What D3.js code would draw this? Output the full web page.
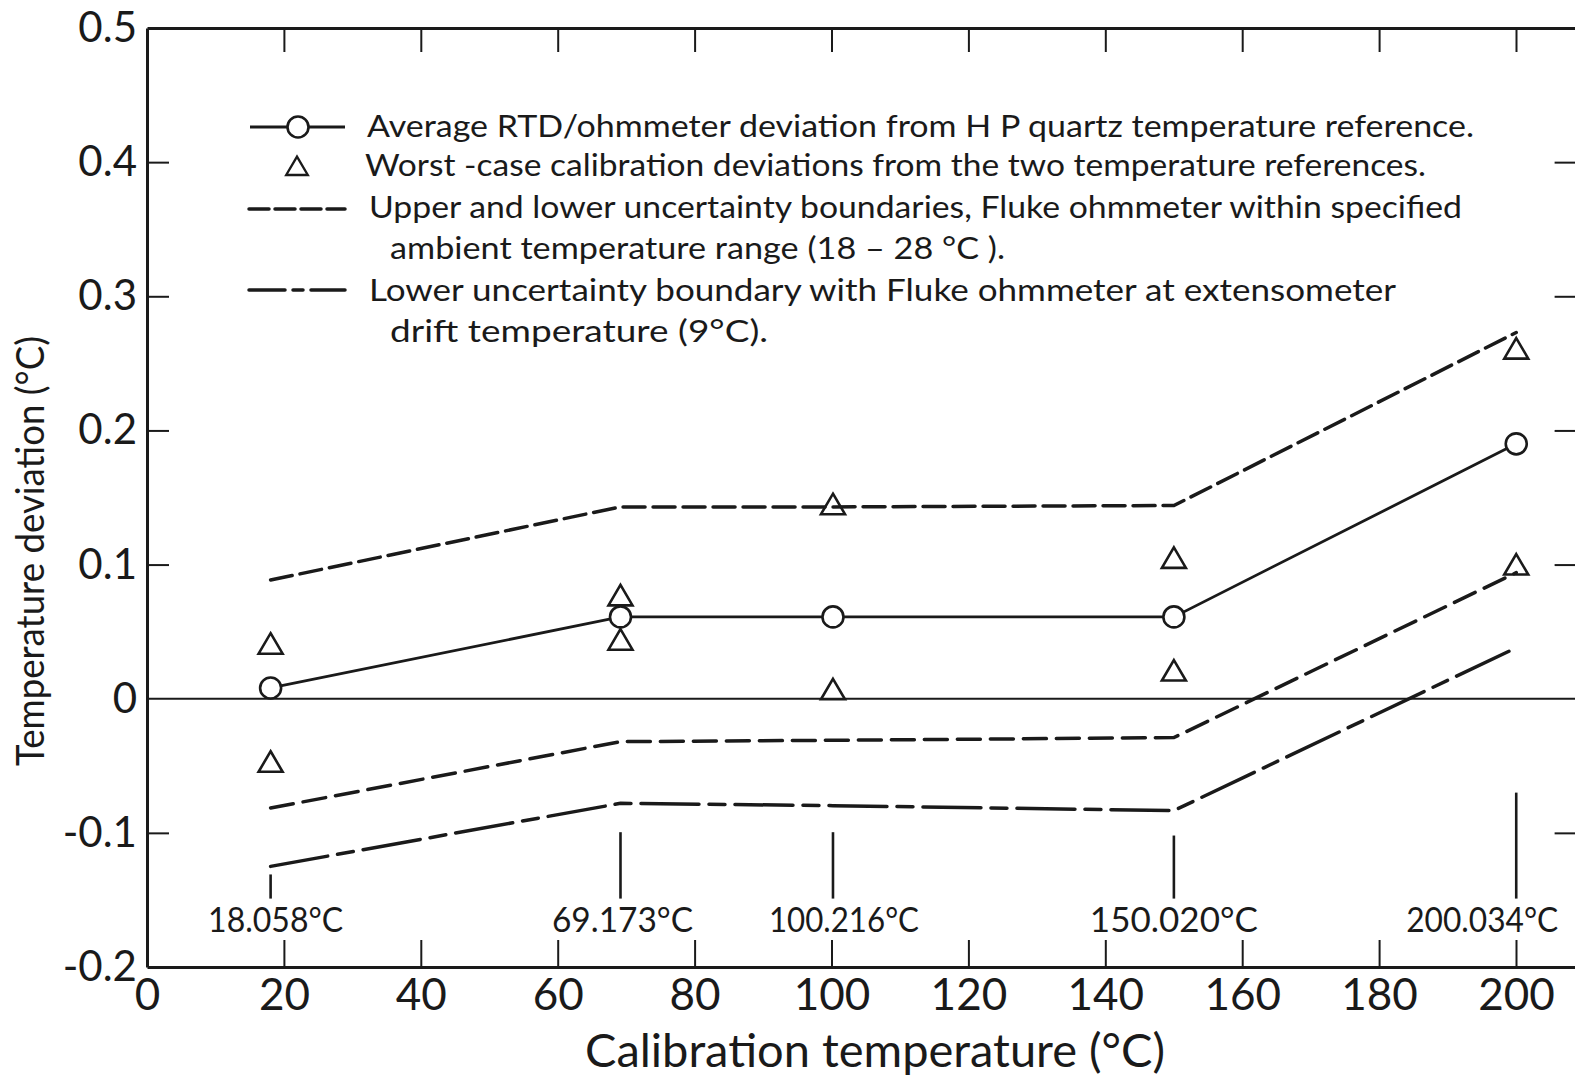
<!DOCTYPE html>
<html>
<head>
<meta charset="utf-8">
<script src="https://cdn.jsdelivr.net/npm/d3@7"></script>
<style>
  html, body { margin: 0; padding: 0; background: #fff; }
  svg { display: block; }
  text { font-family: Lato, "Noto Sans", sans-serif; fill: #1a1a1a; }
</style>
</head>
<body>
<svg id="chart" width="1575" height="1077"></svg>
<script>
// ---------------- DATA ----------------
const calTemps = [18.058, 69.173, 100.216, 150.020, 200.034];
const calLabels = ["18.058°C", "69.173°C", "100.216°C", "150.020°C", "200.034°C"];
const avgDeviation = [0.008, 0.061, 0.061, 0.061, 0.190];
const worstUpper = [0.041, 0.077, 0.145, 0.105, 0.261];
const worstLower = [-0.047, 0.044, 0.007, 0.021, 0.100];
const upperBound = [0.0885, 0.143, 0.143, 0.144, 0.273];
const lowerBound = [-0.0815, -0.032, -0.031, -0.029, 0.094];
const lowerBound9C = [-0.125, -0.078, -0.0797, -0.0834, 0.038];
const markerTop = [-0.131, -0.0995, -0.0995, -0.102, -0.070];
const markerBottom = [-0.149, -0.149, -0.149, -0.149, -0.149];
const xTicks = [0, 20, 40, 60, 80, 100, 120, 140, 160, 180, 200];
const xTickLabels = ["0", "20", "40", "60", "80", "100", "120", "140", "160", "180", "200"];
const yTicks = [0.5, 0.4, 0.3, 0.2, 0.1, 0, -0.1, -0.2];
const yTickLabels = ["0.5", "0.4", "0.3", "0.2", "0.1", "0", "-0.1", "-0.2"];
const legendTexts = [
  "Average RTD/ohmmeter deviation from H P quartz temperature reference.",
  "Worst -case calibration deviations from the two temperature references.",
  "Upper and lower uncertainty boundaries, Fluke ohmmeter within specified",
  "ambient temperature range (18 – 28 °C ).",
  "Lower uncertainty boundary with  Fluke ohmmeter at extensometer",
  "drift temperature (9°C)."
];
const xTitle = "Calibration temperature (°C)";
const yTitle = "Temperature deviation (°C)";

// ---------------- LAYOUT ----------------
const ink = "#1a1a1a";
const svg = d3.select("#chart");
const x = d3.scaleLinear().domain([0, 209]).range([147, 147 + 209 * 6.845]);
const y = d3.scaleLinear().domain([-0.2, 0.5]).range([967, 28]);
const X0 = x.range()[0], X1 = x.range()[1];
const Y0 = y.range()[0], Y1 = y.range()[1];

// Axes
const fmtX = d => xTickLabels[xTicks.indexOf(d)];
const fmtY = d => yTickLabels[yTicks.indexOf(d)];

const gB = svg.append("g").attr("transform", `translate(0,${Y0})`)
  .call(d3.axisBottom(x).tickValues(xTicks).tickFormat(fmtX).tickSizeInner(-27).tickSizeOuter(0).tickPadding(12));
gB.selectAll("text").attr("font-size", 44).style("font-family", "Lato, sans-serif").attr("fill", ink);
gB.selectAll(".tick line").attr("stroke", ink).attr("stroke-width", 2).filter(d => d === 0).remove();

const gT = svg.append("g").attr("transform", `translate(0,${Y1})`)
  .call(d3.axisTop(x).tickValues(xTicks.filter(d => d > 0)).tickFormat("").tickSizeInner(-24).tickSizeOuter(0));
gT.selectAll(".tick line").attr("stroke", ink).attr("stroke-width", 2);

const gL = svg.append("g").attr("transform", `translate(${X0},0)`)
  .call(d3.axisLeft(y).tickValues(yTicks).tickFormat(fmtY).tickSizeInner(-22).tickSizeOuter(0).tickPadding(10));
gL.selectAll("text").attr("font-size", 42).style("font-family", "Lato, sans-serif").attr("fill", ink);
gL.selectAll(".tick line").attr("stroke", ink).attr("stroke-width", 2)
  .filter(d => d === 0.5 || d === -0.2 || d === 0).remove();

const gR = svg.append("g").attr("transform", `translate(${X1},0)`)
  .call(d3.axisRight(y).tickValues(yTicks.filter(d => d !== 0.5 && d !== -0.2 && d !== 0)).tickFormat("").tickSizeInner(-23).tickSizeOuter(0));
gR.selectAll(".tick line").attr("stroke", ink).attr("stroke-width", 2);

[gB, gT, gL, gR].forEach(g => g.select(".domain").attr("stroke", ink).attr("stroke-width", 3));

// zero line
svg.append("line").attr("x1", X0).attr("x2", X1).attr("y1", y(0)).attr("y2", y(0))
  .attr("stroke", ink).attr("stroke-width", 2);

// Axis titles
svg.append("text").attr("x", 585).attr("y", 1067).attr("font-size", 46)
  .attr("textLength", 580).attr("lengthAdjust", "spacingAndGlyphs").text(xTitle);
svg.append("text").attr("transform", "translate(44,766) rotate(-90)").attr("font-size", 38)
  .attr("textLength", 430).attr("lengthAdjust", "spacingAndGlyphs").text(yTitle);

// Lines
const line = d3.line().x(d => x(d[0])).y(d => y(d[1]));
const zipped = arr => calTemps.map((t, i) => [t, arr[i]]);

svg.append("path").attr("d", line(zipped(upperBound))).attr("fill", "none")
  .attr("stroke", ink).attr("stroke-width", 3.5).attr("stroke-dasharray", "22,8").attr("stroke-linecap", "round");
svg.append("path").attr("d", line(zipped(lowerBound))).attr("fill", "none")
  .attr("stroke", ink).attr("stroke-width", 3.5).attr("stroke-dasharray", "23,10").attr("stroke-linecap", "round");
svg.append("path").attr("d", line(zipped(lowerBound9C))).attr("fill", "none")
  .attr("stroke", ink).attr("stroke-width", 3.5).attr("stroke-dasharray", "58,10,16,10").attr("stroke-linecap", "round");
svg.append("path").attr("d", line(zipped(avgDeviation))).attr("fill", "none")
  .attr("stroke", ink).attr("stroke-width", 2.8);

// Vertical marker lines under calibration points
svg.selectAll(".mk").data(calTemps).enter().append("line")
  .attr("x1", d => x(d)).attr("x2", d => x(d))
  .attr("y1", (d, i) => y(markerTop[i])).attr("y2", (d, i) => y(markerBottom[i]))
  .attr("stroke", ink).attr("stroke-width", 2.6);

// Calibration labels
const labelDx = [5, 2, 11, 0, -34];
const labelLen = [135, 141, 150, 168, 152];
svg.selectAll(".cl").data(calLabels).enter().append("text")
  .attr("x", (d, i) => x(calTemps[i]) + labelDx[i] - labelLen[i] / 2)
  .attr("y", 932).attr("font-size", 34)
  .attr("textLength", (d, i) => labelLen[i]).attr("lengthAdjust", "spacingAndGlyphs")
  .text(d => d);

// Markers
const tri = "M0,-10.5L12,10L-12,10Z";
const triData = zipped(worstUpper).concat(zipped(worstLower));
svg.selectAll(".tri").data(triData).enter().append("path")
  .attr("d", tri).attr("transform", d => `translate(${x(d[0])},${y(d[1])})`)
  .attr("fill", "none").attr("stroke", ink).attr("stroke-width", 2.6).attr("stroke-linejoin", "miter");
svg.selectAll(".circ").data(zipped(avgDeviation)).enter().append("circle")
  .attr("cx", d => x(d[0])).attr("cy", d => y(d[1])).attr("r", 10.5)
  .attr("fill", "#fff").attr("stroke", ink).attr("stroke-width", 2.6);

// Legend
const legendPos = [
  {x: 367, y: 137, len: 1107},
  {x: 365, y: 176, len: 1061},
  {x: 369, y: 218, len: 1093},
  {x: 390, y: 259, len: 615},
  {x: 369, y: 301, len: 1027},
  {x: 390, y: 342, len: 378}
];
const lg = svg.append("g");
lg.selectAll("text").data(legendTexts).enter().append("text")
  .attr("x", (d, i) => legendPos[i].x).attr("y", (d, i) => legendPos[i].y)
  .attr("font-size", 30).attr("textLength", (d, i) => legendPos[i].len)
  .attr("lengthAdjust", "spacingAndGlyphs").text(d => d);

lg.append("line").attr("x1", 250).attr("x2", 345).attr("y1", 127).attr("y2", 127)
  .attr("stroke", ink).attr("stroke-width", 2.8);
lg.append("circle").attr("cx", 298).attr("cy", 127).attr("r", 10.5)
  .attr("fill", "#fff").attr("stroke", ink).attr("stroke-width", 2.6);
lg.append("path").attr("d", tri).attr("transform", "translate(297,166) scale(0.9)")
  .attr("fill", "none").attr("stroke", ink).attr("stroke-width", 2.6);
lg.append("line").attr("x1", 249).attr("x2", 345).attr("y1", 209).attr("y2", 209)
  .attr("stroke", ink).attr("stroke-width", 3.5).attr("stroke-dasharray", "20,6").attr("stroke-linecap", "round");
lg.append("line").attr("x1", 249).attr("x2", 345).attr("y1", 290).attr("y2", 290)
  .attr("stroke", ink).attr("stroke-width", 3.5).attr("stroke-dasharray", "36,8,10,8,36").attr("stroke-linecap", "round");
</script>
</body>
</html>
